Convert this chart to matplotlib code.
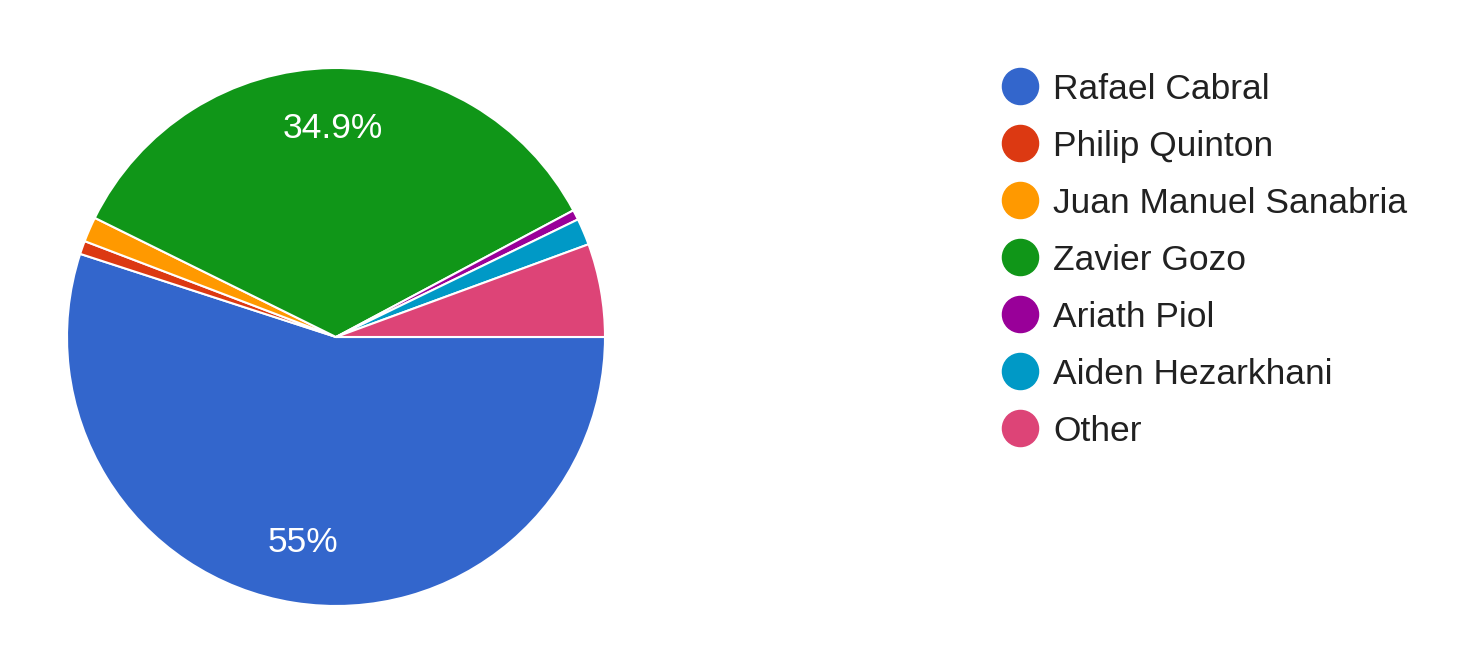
import matplotlib.pyplot as plt
from matplotlib.lines import Line2D

plt.rcParams['font.family'] = ['Liberation Sans', 'DejaVu Sans']

names = ['Rafael Cabral', 'Philip Quinton', 'Juan Manuel Sanabria', 'Zavier Gozo',
         'Ariath Piol', 'Aiden Hezarkhani', 'Other']
shares = [55.0, 0.8, 1.5, 34.9, 0.6, 1.6, 5.6]
colors = ['#3366cc', '#dc3912', '#ff9900', '#109618', '#990099', '#0099c6', '#dd4477']

W, H = 1473, 669
fig = plt.figure(figsize=(W / 100, H / 100), dpi=100)

# pie centre (336, 337) px, radius 269 px
cx, cy, r = 336, 337, 269
ax = fig.add_axes([(cx - r) / W, (H - cy - r) / H, 2 * r / W, 2 * r / H])


def fmt(p):
    if p < 6:
        return ''
    return f'{p:.1f}%'.replace('.0%', '%')


wedges, texts, autotexts = ax.pie(
    shares, colors=colors, startangle=0, counterclock=False, radius=1,
    autopct=fmt, pctdistance=0.775,
    wedgeprops=dict(edgecolor='white', linewidth=1.5),
    textprops=dict(color='white', fontsize=25.5))
ax.set_xlim(-1, 1)
ax.set_ylim(-1, 1)
ax.set_aspect('equal')
ax.axis('off')

# legend drawn in pixel coordinates
lax = fig.add_axes([0, 0, 1, 1])
lax.set_xlim(0, W)
lax.set_ylim(H, 0)
lax.axis('off')
for i, (name, c) in enumerate(zip(names, colors)):
    y = 86 + i * 57
    lax.add_line(Line2D([1020], [y], marker='o', markersize=26, color=c, linestyle=''))
    lax.text(1053, y, name, fontsize=25.5, color='#212121', va='center_baseline', ha='left')

fig.savefig('out.png', dpi=100, facecolor='white')
